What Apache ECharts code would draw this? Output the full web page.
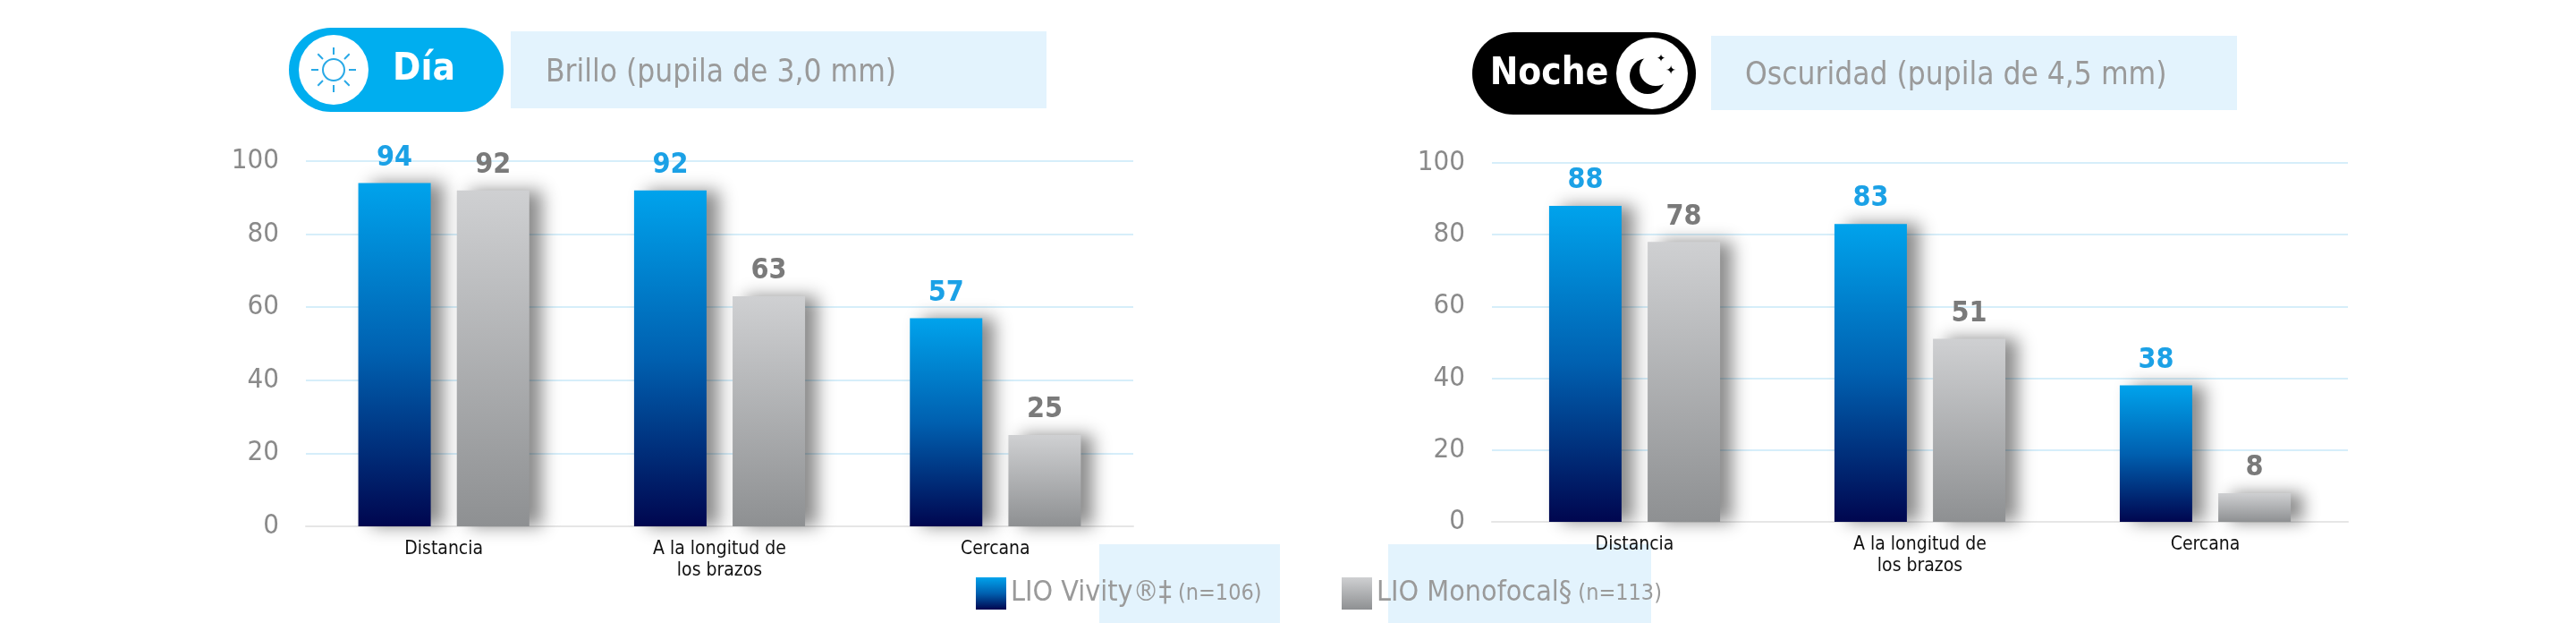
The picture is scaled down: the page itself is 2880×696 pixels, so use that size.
<!DOCTYPE html>
<html><head><meta charset="utf-8">
<script src="https://cdn.jsdelivr.net/npm/echarts@6/dist/echarts.min.js"></script>
<style>html,body{margin:0;padding:0;background:#fff}#c{width:2880px;height:696px}</style>
</head><body><div id="c"></div>
<script>
const categories = ['Distancia', 'A la longitud de\nlos brazos', 'Cercana'];
const dayVivity = [94, 92, 57];
const dayMono = [92, 63, 25];
const nightVivity = [88, 83, 38];
const nightMono = [78, 51, 8];
const yTicks = [0, 20, 40, 60, 80, 100];
const seriesNames = ['LIO Vivity®‡', 'LIO Monofocal§'];

const F = '"Liberation Sans Narrow","DejaVu Sans Condensed","Open Sans",sans-serif';
const blueGrad = new echarts.graphic.LinearGradient(0,0,0,1,[{offset:0,color:'#00a3ec'},{offset:0.5,color:'#0060b0'},{offset:1,color:'#00064f'}]);
const grayGrad = new echarts.graphic.LinearGradient(0,0,0,1,[{offset:0,color:'#cfd0d2'},{offset:1,color:'#8e9092'}]);
const shadow = {shadowColor:'rgba(0,0,0,0.45)',shadowBlur:18,shadowOffsetX:14,shadowOffsetY:0};

function xAx(i){return {type:'category',gridIndex:i,data:categories,axisTick:{show:false},
  axisLine:{lineStyle:{color:'#e6e6e6',width:2}},
  axisLabel:{color:'#111',fontFamily:F,fontSize:21,margin:14,lineHeight:24}};}
function yAx(i){return {type:'value',gridIndex:i,min:yTicks[0],max:yTicks[yTicks.length-1],interval:20,
  axisLine:{show:false},axisTick:{show:false},
  splitLine:{lineStyle:{color:'#d6eefa',width:2}},
  axisLabel:{color:'#8a8a8a',fontFamily:F,fontSize:31,margin:30}};}
function bar(name,data,i,grad,lblColor){return {name,type:'bar',xAxisIndex:i,yAxisIndex:i,data,
  barWidth:81,barGap:'36%',itemStyle:Object.assign({color:grad},shadow),
  label:{show:true,position:'top',distance:12,color:lblColor,fontFamily:F,fontSize:32,fontWeight:'bold'}};}

const chart = echarts.init(document.getElementById('c'));
chart.setOption({
  animation:false,
  grid:[{left:342,width:925,top:180,height:408},{left:1668,width:957,top:182,height:401}],
  xAxis:[xAx(0),xAx(1)], yAxis:[yAx(0),yAx(1)],
  legend:[
    {data:[seriesNames[0]],left:1086,top:640,itemWidth:34,itemHeight:36,icon:'rect',
     formatter:'{a|{name}}{b| (n=106)}',textStyle:{rich:{a:{fontFamily:F,fontSize:32,color:'#9a9a9a'},b:{fontFamily:F,fontSize:25,color:'#9a9a9a'}}}},
    {data:[seriesNames[1]],left:1495,top:640,itemWidth:34,itemHeight:36,icon:'rect',
     formatter:'{a|{name}}{b| (n=113)}',textStyle:{rich:{a:{fontFamily:F,fontSize:32,color:'#9a9a9a'},b:{fontFamily:F,fontSize:25,color:'#9a9a9a'}}}}
  ],
  series:[
    bar(seriesNames[0],dayVivity,0,blueGrad,'#1ba1e6'),
    bar(seriesNames[1],dayMono,0,grayGrad,'#7a7a7a'),
    bar(seriesNames[0],nightVivity,1,blueGrad,'#1ba1e6'),
    bar(seriesNames[1],nightMono,1,grayGrad,'#7a7a7a')
  ],
  graphic:[
    {type:'rect',z:-10,shape:{x:1229,y:608,width:202,height:88},style:{fill:'#e3f3fd'}},
    {type:'rect',z:-10,shape:{x:1552,y:608,width:294,height:88},style:{fill:'#e3f3fd'}},
    {type:'rect',shape:{x:323,y:31,width:240,height:94,r:47},style:{fill:'#00aeef'}},
    {type:'circle',shape:{cx:373,cy:78,r:39},style:{fill:'#fff'}},
    {type:'circle',shape:{cx:373,cy:78,r:12},style:{fill:'none',stroke:'#29a9e6',lineWidth:2}},
    ...[0,1,2,3,4,5,6,7].map(k=>{const a=k*Math.PI/4;return {type:'line',
      shape:{x1:373+Math.cos(a)*17,y1:78+Math.sin(a)*17,x2:373+Math.cos(a)*25,y2:78+Math.sin(a)*25},
      style:{stroke:'#29a9e6',lineWidth:2}};}),
    {type:'text',style:{x:474,y:78,text:'Día',fill:'#fff',font:'bold 42px '+F,textAlign:'center',textVerticalAlign:'middle'}},
    {type:'rect',shape:{x:571,y:35,width:599,height:86},style:{fill:'#e3f3fd'}},
    {type:'text',style:{x:610,y:82,text:'Brillo (pupila de 3,0 mm)',fill:'#9a9a9a',font:'35px '+F,textVerticalAlign:'middle'}},
    {type:'rect',shape:{x:1646,y:36,width:250,height:92,r:46},style:{fill:'#000'}},
    {type:'text',style:{x:1732,y:83,text:'Noche',fill:'#fff',font:'bold 42px '+F,textAlign:'center',textVerticalAlign:'middle'}},
    {type:'circle',shape:{cx:1847,cy:82,r:40},style:{fill:'#fff'}},
    {type:'circle',shape:{cx:1842,cy:85,r:20},style:{fill:'#000'}},
    {type:'circle',shape:{cx:1851,cy:78,r:18},style:{fill:'#fff'}},
    {type:'text',style:{x:1857,y:66,text:'✦',fill:'#000',font:'12px "DejaVu Sans"',textAlign:'center',textVerticalAlign:'middle'}},
    {type:'text',style:{x:1868,y:79,text:'✦',fill:'#000',font:'14px "DejaVu Sans"',textAlign:'center',textVerticalAlign:'middle'}},
    {type:'rect',shape:{x:1913,y:40,width:588,height:83},style:{fill:'#e3f3fd'}},
    {type:'text',style:{x:1951,y:85,text:'Oscuridad (pupila de 4,5 mm)',fill:'#9a9a9a',font:'35px '+F,textVerticalAlign:'middle'}}
  ]
});
</script></body></html>
